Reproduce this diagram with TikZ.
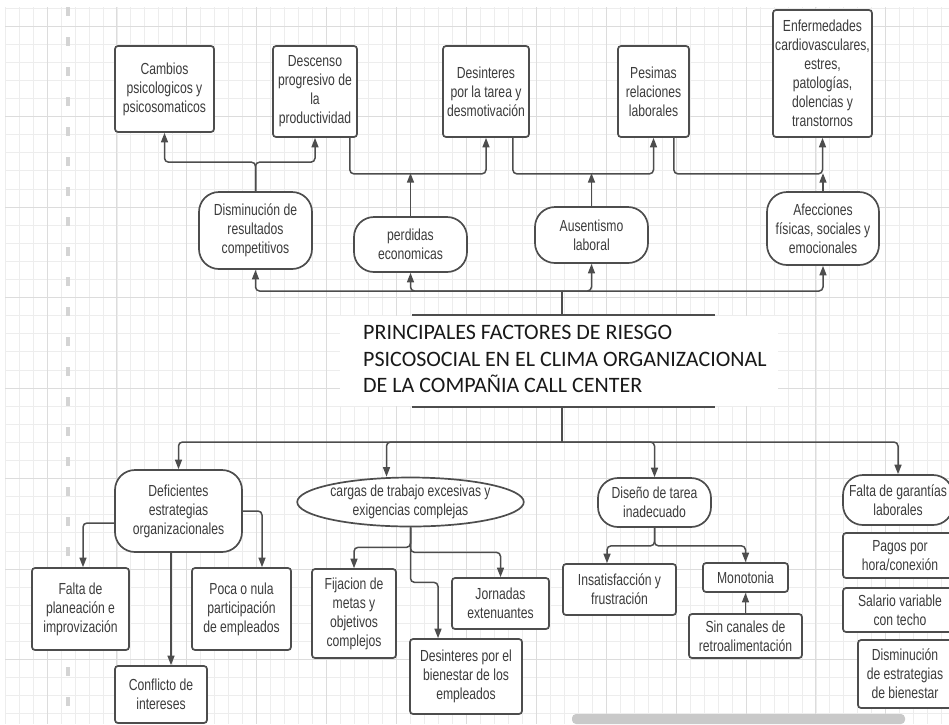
\documentclass[tikz,border=0pt]{standalone}
\usepackage{fontspec}
\newfontfamily\boxfont[FakeStretch=0.76]{Liberation Sans}
\newfontfamily\titlefont{Carlito}
\usetikzlibrary{arrows.meta,shapes.geometric}
\definecolor{linegray}{HTML}{4D4D4D}
\definecolor{txtgray}{HTML}{3C3C3C}
\definecolor{gridminor}{HTML}{EDEDED}
\definecolor{gridmajor}{HTML}{DCDCDC}
\definecolor{dashgray}{HTML}{D4D4D4}
\definecolor{scrollgray}{HTML}{C9C9C9}
\tikzset{
  box/.style={draw=linegray, line width=1.7pt, rounded corners=3pt, fill=white, align=center,
    text=txtgray, font=\boxfont\fontsize{16}{19}\selectfont, inner sep=1pt},
  pill/.style={box, rounded corners=20pt},
  oval/.style={box, ellipse, inner sep=0pt},
  titletext/.style={align=left, inner sep=0pt, text=black!90, font=\titlefont\fontsize{22}{26.7}\selectfont},
  conn/.style={draw=linegray, line width=1.5pt, rounded corners=4pt},
  arr/.style={conn, -{Triangle[length=9.5pt,width=7pt]}},
}

\begin{document}
\begin{tikzpicture}[x=1pt,y=-1pt]
    \useasboundingbox (0,0) rectangle (949,724);
    % background
    \foreach \i in {-3,...,64} \draw[gridminor, line width=0.8pt] ({47+13.98*\i},7) -- ({47+13.98*\i},724);
    \foreach \j in {-1,...,38} \draw[gridminor, line width=0.8pt] (5,{26+18.1*\j}) -- (949,{26+18.1*\j});
    \foreach \i in {0,...,12} \draw[gridmajor, line width=1pt] ({47+69.9*\i},7) -- ({47+69.9*\i},724);
    \foreach \j in {0,...,7} \draw[gridmajor, line width=1pt] (5,{26+90.5*\j}) -- (949,{26+90.5*\j});
    \draw[dashgray, line width=3.5pt, dash pattern=on 9pt off 21pt] (68,7) -- (68,724);
    \fill[scrollgray, rounded corners=4pt] (572,714) rectangle (905,724);

    % title
    \fill[white] (340,316) rectangle (778,406);
    \draw[linegray, line width=1.2pt] (412,315) -- (715,315);
    \draw[linegray, line width=1.2pt] (412,407) -- (715,407);
    \node[titletext, anchor=north west] (title) at (363,325)
        {PRINCIPALES FACTORES DE RIESGO\\PSICOSOCIAL EN EL CLIMA ORGANIZACIONAL\\DE LA COMPAÑIA CALL CENTER};
    \coordinate (tt) at (562,315);
    \coordinate (tb) at (562,407);
    \coordinate (up) at (562,291);
    \coordinate (down) at (562,442);

    % effects
    \node[box, minimum width=99pt, minimum height=86pt] (cambios) at (164.5,89) {Cambios\\psicologicos y\\psicosomaticos};
    \node[box, minimum width=84pt, minimum height=91pt] (descenso) at (315,91.5) {Descenso\\progresivo de\\la\\productividad};
    \node[box, minimum width=86pt, minimum height=91pt] (desint) at (486,91.5) {Desinteres\\por la tarea y\\desmotivación};
    \node[box, minimum width=71pt, minimum height=91pt] (pesimas) at (653.5,91.5) {Pesimas\\relaciones\\laborales};
    \node[box, minimum width=99pt, minimum height=127pt] (enferm) at (822.5,73.5) {Enfermedades\\cardiovasculares,\\estres,\\patologías,\\dolencias y\\transtornos};

    \node[pill, minimum width=113pt, minimum height=77pt] (dismin) at (255.5,230.5) {Disminución de\\resultados\\competitivos};
    \node[pill, minimum width=113pt, minimum height=55pt] (perdidas) at (410.5,244.5) {perdidas\\economicas};
    \node[pill, minimum width=113pt, minimum height=56pt] (ausent) at (591.5,235) {Ausentismo\\laboral};
    \node[pill, minimum width=112pt, minimum height=73pt] (afecc) at (823,228.5) {Afecciones\\físicas, sociales y\\emocionales};

    \draw[arr] (dismin.north) -- ++(0,-29) -| (cambios.south);
    \draw[arr] (dismin.north) -- ++(0,-29) -| (descenso.south);
    \draw[arr] ([xshift=-8pt]descenso.south east) -- ++(0,36) -| (desint.south);
    \draw[arr] (perdidas.north) -- ++(0,-43);
    \draw[arr] ([xshift=-17pt]desint.south east) -- ++(0,36) -| (pesimas.south);
    \draw[arr] (ausent.north) -- ++(0,-33);
    \draw[arr] ([xshift=-16pt]pesimas.south east) -- ++(0,36) -| (enferm.south);
    \draw[arr] (afecc.north) -- ++(0,-18);

    \draw[conn] (tt) -- (up);
    \draw[arr] (up) -| (dismin.south);
    \draw[arr] (up) -| (perdidas.south);
    \draw[arr] (up) -| (ausent.south);
    \draw[arr] (up) -| (afecc.south);

    % factors
    \node[pill, minimum width=127pt, minimum height=82pt] (defic) at (178.5,511) {Deficientes\\estrategias\\organizacionales};
    \node[oval, minimum width=225pt, minimum height=49pt] (cargas) at (410.5,502) {cargas de trabajo excesivas y\\exigencias complejas};
    \node[pill, minimum width=113pt, minimum height=49pt] (diseno) at (654.5,502.5) {Diseño de tarea\\inadecuado};
    \node[pill, minimum width=110pt, minimum height=50pt] (faltag) at (898,500) {Falta de garantías\\laborales};

    \draw[conn] (tb) -- (down);
    \draw[arr] (down) -| (defic.north);
    \draw[arr] (down) -| ([xshift=-24pt]cargas.north);
    \draw[arr] (down) -| (diseno.north);
    \draw[arr] (down) -| (faltag.north);

    \node[box, minimum width=97pt, minimum height=82pt] (faltap) at (80.5,609) {Falta de\\planeación e\\improvización};
    \node[box, minimum width=92pt, minimum height=57pt] (conflicto) at (161,694.5) {Conflicto de\\intereses};
    \node[box, minimum width=99pt, minimum height=82pt] (poca) at (241.5,609) {Poca o nula\\participación\\de empleados};
    \draw[arr] ([yshift=-12pt]defic.west) -| ([xshift=2.5pt]faltap.north);
    \draw[arr] (defic.east) -| ([xshift=20.5pt]poca.north);
    \draw[arr] ([xshift=-7.5pt]defic.south) -- ([xshift=10pt]conflicto.north);

    \node[box, minimum width=84pt, minimum height=89pt] (fijacion) at (354,613.5) {Fijacion de\\metas y\\objetivos\\complejos};
    \node[box, minimum width=112pt, minimum height=75pt] (desbien) at (466,676.5) {Desinteres por el\\bienestar de los\\empleados};
    \node[box, minimum width=97pt, minimum height=51pt] (jornadas) at (500.5,603.5) {Jornadas\\extenuantes};
    \draw[arr] (cargas.south) -- ++(0,20) -| (fijacion.north);
    \draw[arr] (cargas.south) -- ++(0,55) -| ([xshift=-28pt]desbien.north);
    \draw[arr] (cargas.south) -- ++(0,25) -| (jornadas.north);

    \node[box, minimum width=113pt, minimum height=51pt] (insat) at (619.5,589.5) {Insatisfacción y\\frustración};
    \node[box, minimum width=85pt, minimum height=29pt] (monot) at (745.5,577.5) {Monotonia};
    \node[box, minimum width=113pt, minimum height=44pt] (sincan) at (745.5,636) {Sin canales de\\retroalimentación};
    \draw[arr] (diseno.south) -- ++(0,18) -| ([xshift=-12.5pt]insat.north);
    \draw[arr] (diseno.south) -- ++(0,18) -| (monot.north);
    \draw[arr] (sincan.north) -- (monot.south);

    \node[box, minimum width=114pt, minimum height=45pt] (pagos) at (900,555.5) {Pagos por\\hora/conexión};
    \node[box, minimum width=114pt, minimum height=44pt] (salario) at (900,610) {Salario variable\\con techo};
    \node[box, minimum width=94pt, minimum height=68pt] (dismest) at (905,674) {Disminución\\de estrategias\\de bienestar};
\end{tikzpicture}
\end{document}
